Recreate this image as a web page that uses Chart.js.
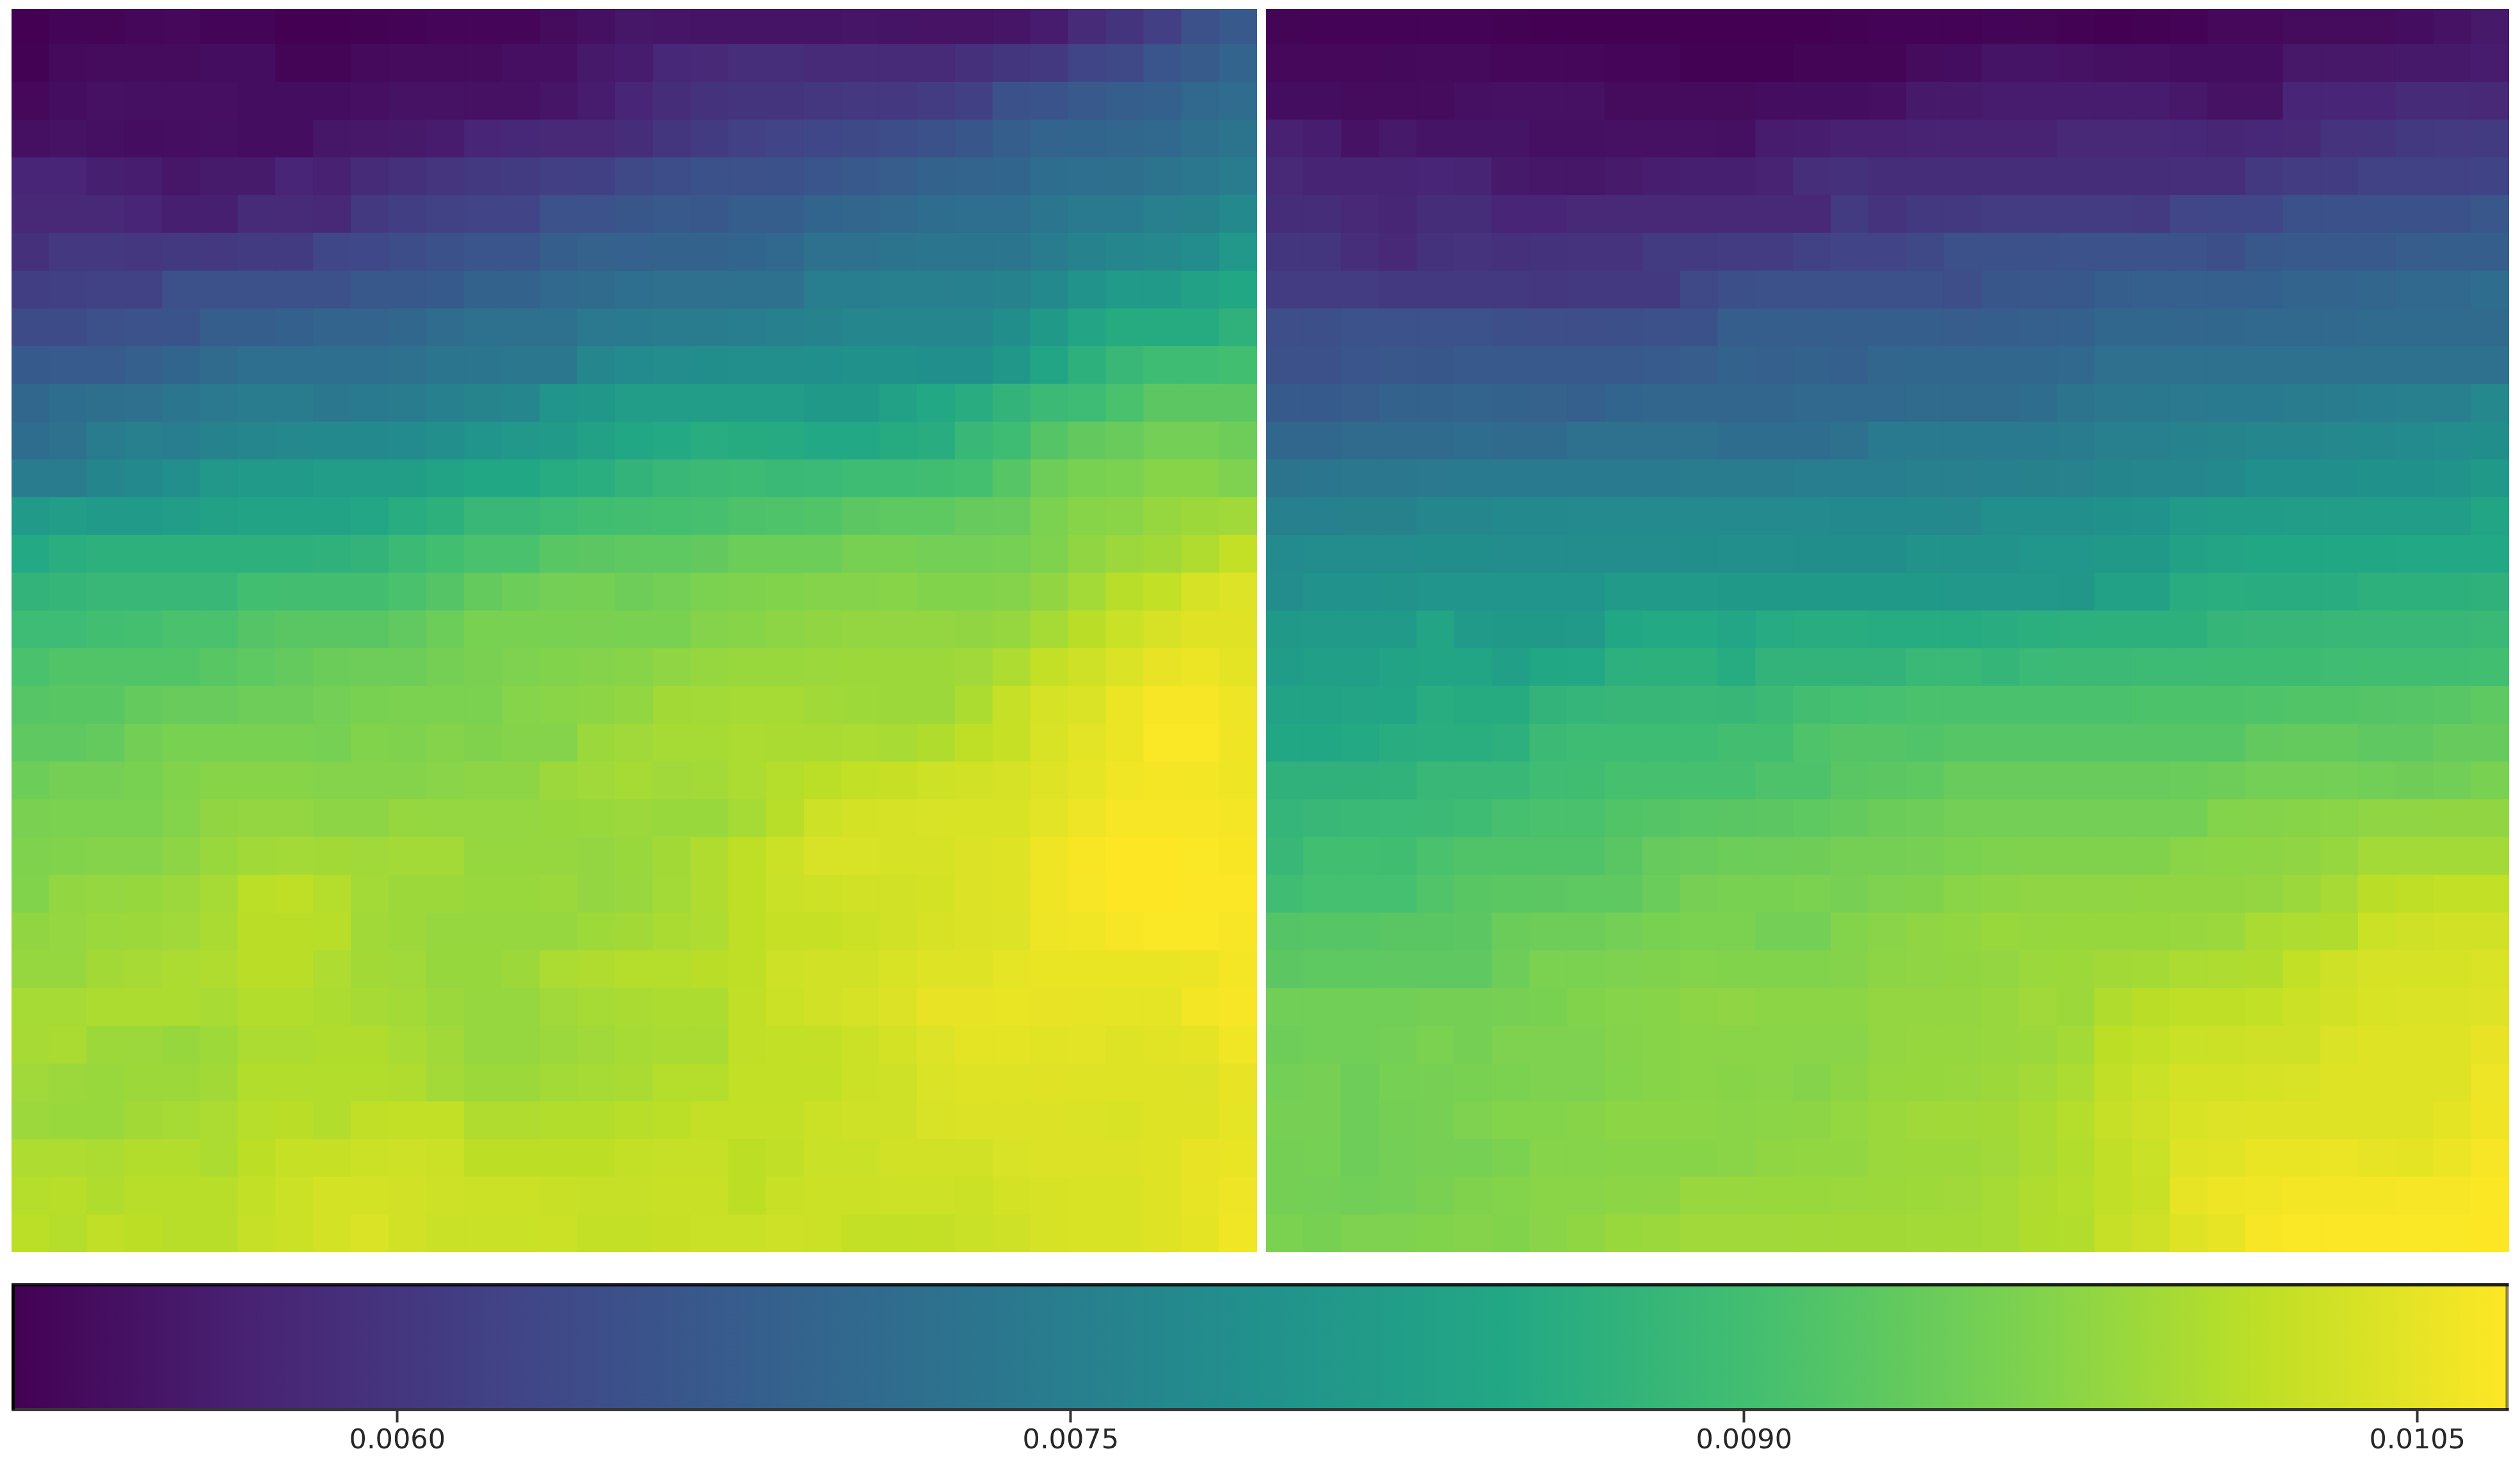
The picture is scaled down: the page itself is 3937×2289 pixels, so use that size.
<!DOCTYPE html>
<html>
<head>
<meta charset="utf-8">
<title>Heatmaps</title>
<script src="https://cdn.jsdelivr.net/npm/chart.js@4"></script>
<style>
    html, body { margin: 0; padding: 0; background: #fff; }
    canvas { position: absolute; }
</style>
</head>
<body>
<canvas id="leftMap" width="1946" height="1942" style="left:18px;top:14px"></canvas>
<canvas id="rightMap" width="1942" height="1942" style="left:1978px;top:14px"></canvas>
<canvas id="colorbar" width="3937" height="289" style="left:0;top:2000px"></canvas>
<script>
const leftRows = [
[514,519,520,524,526,521,521,514,514,516,518,522,522,522,530,538,548, 546,544,544,544,545,546,545,543,543,546,558,580,598,616,650,668],
[516,528,532,532,532,533,534,520,520,528,530,530,530,536,536,553,556, 575,578,588,588,580,580,580,580,590,600,606,628,635,660,674,692],
[525,534,540,538,536,537,534,534,534,536,542,542,540,540,546,556,572, 585,595,598,598,603,604,604,612,618,652,658,668,680,684,702,710],
[538,542,538,533,535,538,534,534,548,550,552,558,572,575,578,578,585, 600,610,620,625,632,638,645,652,662,680,692,695,698,704,716,728],
[572,572,562,560,548,555,555,572,565,582,590,597,606,610,616,618,635, 645,652,650,652,660,668,676,690,693,695,712,715,717,725,735,745],
[578,578,578,572,562,562,582,580,578,606,615,622,627,627,655,655,662, 668,666,678,680,695,696,700,712,714,714,732,740,742,752,756,775],
[590,605,604,603,606,605,610,610,632,634,645,652,660,660,680,688,685, 690,690,695,700,720,722,728,730,732,732,745,762,770,772,780,808],
[615,618,622,622,650,650,650,650,650,665,665,670,690,690,700,708,714, 718,718,720,720,748,750,752,752,755,760,775,798,815,815,830,845],
[640,640,650,655,658,680,680,684,692,692,698,710,720,720,720,738,742, 745,745,748,755,762,768,770,770,770,785,812,838,855,855,855,870],
[670,672,672,682,695,705,714,714,714,714,722,730,730,735,735,770,778, 780,785,788,788,790,792,792,790,790,806,840,868,885,895,895,900],
[698,712,716,718,730,738,745,745,735,742,745,755,764,768,800,806,820, 822,822,822,822,812,812,830,848,858,875,890,893,910,928,928,928],
[712,722,745,752,750,760,770,772,775,775,778,788,800,808,815,830,846, 850,858,855,852,848,848,855,860,885,895,920,935,940,952,952,946],
[745,745,765,775,788,810,815,815,820,820,824,835,845,845,856,862,875, 885,890,892,887,888,895,895,898,903,922,946,958,960,970,970,962],
[815,820,815,813,820,832,836,836,836,842,860,868,885,885,892,898,902, 903,905,913,915,918,928,930,930,938,940,960,970,972,982,988,990],
[850,862,868,868,868,868,868,868,870,875,890,900,910,910,925,928,932, 930,935,945,945,945,957,957,952,952,955,963,978,987,992,1003,1020],
[875,880,885,885,885,885,900,902,902,902,910,920,937,945,952,953,946, 952,960,963,965,967,967,970,965,965,968,978,993,1010,1018,1035,1042],
[893,893,900,903,908,908,920,926,926,926,933,945,958,958,958,959,958, 958,967,970,975,978,980,980,980,978,982,995,1012,1025,1037,1045,1045],
[910,918,918,918,918,925,930,936,944,946,946,953,959,962,965,967,970, 976,982,985,985,986,988,988,988,990,1002,1020,1030,1040,1052,1055,1048],
[921,925,925,937,940,940,946,946,952,958,960,960,960,969,972,975,979, 992,993,995,995,991,989,988,988,1001,1021,1036,1040,1054,1065,1065,1056],
[932,932,937,951,958,958,958,958,955,965,963,967,964,968,968,986,990, 995,995,1000,999,999,1000,997,1004,1016,1022,1039,1047,1055,1067,1067,1059],
[945,953,953,958,965,970,970,970,968,968,968,971,975,975,987,990,995, 990,993,1000,1008,1013,1019,1023,1028,1031,1036,1043,1049,1060,1062,1061,1057],
[959,960,960,960,966,978,980,980,975,975,982,981,981,981,983,985,987, 985,985,995,1011,1028,1034,1036,1038,1039,1039,1047,1056,1064,1064,1064,1063],
[963,965,968,968,975,985,991,993,992,990,993,993,982,982,982,980,985, 992,1003,1016,1026,1038,1038,1036,1036,1041,1043,1058,1066,1070,1070,1067,1066],
[965,979,981,983,987,995,1013,1016,1008,993,988,988,985,985,986,980,984, 993,1003,1016,1025,1028,1031,1031,1034,1041,1043,1058,1064,1070,1070,1068,1068],
[978,981,986,988,990,998,1012,1012,1010,991,988,982,982,982,982,989,992, 998,1002,1016,1022,1022,1026,1031,1037,1041,1042,1056,1060,1064,1067,1067,1065],
[982,982,992,996,1000,1003,1012,1012,1002,992,990,983,983,988,1000,1003,1008, 1008,1012,1016,1028,1031,1031,1039,1044,1044,1049,1053,1053,1053,1053,1054,1062],
[995,995,1001,1001,1001,997,1005,1005,1001,996,993,986,982,982,990,995,998, 1001,1001,1017,1026,1031,1036,1041,1052,1052,1053,1052,1050,1049,1049,1061,1065],
[996,998,988,987,983,989,1000,1000,1004,1004,997,991,982,982,987,990,995, 998,998,1017,1019,1020,1026,1034,1042,1048,1048,1046,1047,1044,1046,1048,1060],
[990,987,985,988,988,992,1005,1005,1005,1005,1003,993,988,988,993,995,998, 1008,1008,1018,1018,1018,1026,1030,1040,1044,1044,1045,1044,1043,1043,1042,1052],
[987,985,985,992,995,1000,1009,1012,1006,1017,1019,1019,1003,1003,1005,1005,1011, 1013,1020,1020,1020,1026,1030,1030,1038,1041,1041,1041,1040,1039,1043,1043,1049],
[1002,1002,1000,1006,1006,1001,1014,1022,1022,1027,1028,1026,1014,1014,1014,1014,1020, 1021,1021,1014,1017,1025,1025,1031,1031,1031,1038,1041,1041,1041,1044,1052,1053],
[1008,1011,1004,1011,1011,1011,1019,1026,1034,1034,1031,1028,1026,1026,1024,1021,1021, 1024,1024,1014,1024,1026,1026,1028,1028,1026,1034,1036,1039,1039,1043,1051,1056],
[1013,1008,1017,1014,1011,1011,1021,1026,1034,1040,1031,1025,1025,1025,1026,1020,1020, 1023,1025,1025,1028,1026,1020,1019,1020,1025,1030,1036,1039,1039,1043,1048,1060]
];

const rightRows = [
[520,518,518,518,517,517,516,514,514,514,514,514,514,514,514,516,517,518,518,519,520,516,514,516,518,525,526,532,532,532,534,542,552],
[526,526,526,527,528,528,524,524,524,522,522,516,516,516,520,520,520,532,533,544,544,542,538,536,534,534,534,550,550,550,552,553,556],
[534,534,532,532,532,538,540,540,540,532,532,530,530,533,533,534,536,552,552,556,556,556,556,556,550,542,542,572,572,572,582,582,578],
[565,560,542,552,545,545,545,538,538,540,540,540,538,556,560,565,565,566,566,566,566,578,578,578,576,574,576,578,596,598,606,608,610],
[578,570,570,570,572,570,552,548,548,554,560,562,562,566,588,590,586,586,586,586,586,586,585,585,587,587,606,612,614,622,622,622,624],
[585,585,578,574,585,585,572,572,578,578,578,578,578,578,578,610,596,606,606,612,612,612,612,608,630,632,632,652,652,652,652,652,664],
[600,600,588,578,594,596,590,594,596,596,610,610,612,612,622,626,626,635,650,650,650,654,654,654,654,648,665,668,668,668,676,678,680],
[612,612,612,606,606,606,606,603,606,606,606,636,648,650,650,650,650,650,646,662,664,666,680,682,682,682,684,692,692,696,700,702,712],
[646,648,654,654,654,654,648,646,646,648,650,652,678,678,678,680,680,678,676,680,682,684,698,698,696,698,700,702,704,706,708,708,708],
[650,650,660,664,662,668,668,668,668,668,672,676,690,682,690,682,696,698,698,698,698,700,718,718,720,720,720,720,722,722,722,722,722],
[670,670,676,690,690,692,690,688,682,694,696,696,696,696,700,702,704,708,708,708,712,728,734,736,738,740,742,744,745,750,752,752,772],
[698,698,706,708,708,712,708,708,720,722,722,720,712,712,712,722,742,742,742,742,742,744,752,752,762,764,768,770,772,775,778,780,785],
[728,730,735,735,738,740,740,742,742,742,742,745,745,745,748,750,750,752,752,754,756,758,765,768,770,775,790,790,790,792,792,798,812],
[755,755,756,756,770,770,775,775,776,776,776,776,776,776,776,774,774,774,772,788,788,788,792,795,815,818,818,820,820,820,820,820,840],
[778,780,780,780,786,786,782,782,782,782,782,785,788,788,786,786,786,798,798,798,805,805,812,812,832,838,846,846,846,846,848,848,848],
[782,795,795,798,802,802,802,802,802,815,815,815,812,812,812,812,812,812,810,810,810,806,830,832,858,862,858,858,858,868,868,868,870],
[812,815,815,815,838,815,812,812,815,846,850,850,842,854,858,858,856,856,856,860,864,866,868,868,868,880,882,882,884,884,884,885,887],
[818,825,825,835,840,840,826,846,848,866,868,868,856,875,875,875,875,886,886,880,888,890,890,892,892,894,894,894,896,898,898,898,900],
[836,836,838,840,858,855,855,875,878,882,882,884,882,890,902,904,906,910,910,910,910,910,910,912,912,912,915,918,918,920,922,924,930],
[846,846,850,858,862,862,866,890,895,895,895,895,902,902,915,920,920,917,922,922,922,922,922,922,922,922,934,936,936,932,932,938,938],
[870,870,870,872,884,884,884,896,898,905,905,905,905,913,913,926,928,930,940,940,940,940,940,940,942,946,952,952,952,950,948,950,958],
[878,884,886,888,890,895,905,908,908,918,920,924,926,928,930,937,944,946,952,952,952,952,952,952,952,966,968,970,972,976,976,978,978],
[885,900,900,898,910,916,916,916,916,926,938,940,945,946,948,954,954,956,960,963,964,964,964,964,972,974,975,976,982,993,993,993,993],
[896,904,904,904,917,925,927,928,930,932,942,956,958,958,960,956,962,964,972,974,976,976,976,978,978,978,980,986,996,1012,1016,1018,1018],
[920,922,922,926,926,928,944,946,946,952,958,960,960,952,952,966,971,976,979,985,982,983,983,983,984,986,998,1002,1004,1027,1029,1031,1031],
[928,930,930,932,932,932,946,960,960,962,964,966,965,965,965,968,975,976,978,980,986,988,992,994,1000,1002,1004,1019,1030,1036,1036,1036,1040],
[950,950,950,950,953,954,956,958,965,969,970,975,976,974,974,974,980,980,980,984,990,988,1004,1012,1016,1016,1018,1027,1032,1039,1040,1040,1042],
[946,950,950,952,960,954,962,962,962,968,970,972,972,972,971,971,980,982,982,984,986,994,1014,1018,1025,1026,1030,1030,1040,1044,1044,1044,1052],
[952,956,946,955,956,958,960,962,962,966,970,972,970,971,967,975,982,983,984,988,993,1000,1017,1025,1034,1034,1036,1038,1044,1044,1044,1044,1056],
[956,956,946,954,956,962,966,966,970,974,974,973,972,973,975,981,986,990,991,992,999,1008,1021,1029,1039,1042,1043,1044,1044,1044,1044,1048,1058],
[954,955,946,952,956,955,960,969,969,970,970,970,972,977,979,979,986,988,988,990,999,1006,1017,1025,1043,1046,1053,1053,1055,1051,1048,1054,1064],
[954,952,950,952,959,964,966,972,972,974,975,984,984,985,985,986,988,989,990,995,1003,1008,1017,1024,1050,1057,1060,1063,1063,1063,1064,1065,1069],
[960,957,962,962,965,967,965,971,977,985,986,990,990,990,991,992,992,993,994,995,1004,1006,1021,1030,1043,1051,1064,1067,1068,1068,1067,1067,1070]
];

const cellUnit = 1e-5;
const columnLabels = leftRows[0].map((v, i) => String(i));

const colorMin = 0.005144;
const colorMax = 0.0107;
const colorbarTicks = [0.0060, 0.0075, 0.0090, 0.0105];

// viridis, evenly spaced stops
const viridisStops = ['#440154', '#482475', '#414487', '#355f8d', '#2a788e', '#21918c', '#22a884', '#44bf70', '#7ad151', '#bddf26', '#fde725'];

function hexToRgb(hex) {
    return [1, 3, 5].map(i => parseInt(hex.slice(i, i + 2), 16));
}

function viridisColor(value) {
    const t = Math.min(1, Math.max(0, (value - colorMin) / (colorMax - colorMin)));
    const pos = t * (viridisStops.length - 1);
    const i = Math.min(Math.floor(pos), viridisStops.length - 2);
    const a = hexToRgb(viridisStops[i]);
    const b = hexToRgb(viridisStops[i + 1]);
    const rgb = a.map((c, k) => Math.round(c + (b[k] - c) * (pos - i)));
    return `rgb(${rgb[0]},${rgb[1]},${rgb[2]})`;
}

function createHeatmap(canvasId, rows) {
    // every row is a stacked dataset of unit-height bars, coloured by its value
    const datasets = rows.map(row => ({
        data: row.map(() => 1),
        backgroundColor: row.map(v => viridisColor(v * cellUnit)),
        borderWidth: 0,
        inflateAmount: 0.6,
        barPercentage: 1,
        categoryPercentage: 1
    }));

    new Chart(document.getElementById(canvasId), {
        type: 'bar',
        data: { labels: columnLabels, datasets: datasets },
        options: {
            responsive: false,
            animation: false,
            devicePixelRatio: 1,
            layout: { padding: 0 },
            plugins: { legend: { display: false }, tooltip: { enabled: false } },
            scales: {
                x: { stacked: true, display: false },
                y: { stacked: true, display: false, reverse: true, min: 0.08, max: rows.length }
            }
        }
    });
}

// frame round the colorbar; the sides are not equally dark in the reference
const colorbarFrame = {
    id: 'colorbarFrame',
    afterDatasetsDraw(chart) {
        const { ctx, chartArea: { left, right, top, bottom } } = chart;
        const sides = [
            [left - 2.5, top, right + 2.5, top, 'rgba(0,0,0,0.88)'],
            [left - 2.5, bottom, right + 2.5, bottom, '#363636'],
            [left, top, left, bottom, '#000'],
            [right, top, right, bottom, 'rgba(0,0,0,0.45)']
        ];
        ctx.save();
        ctx.lineWidth = 5;
        sides.forEach(([x0, y0, x1, y1, color]) => {
            ctx.strokeStyle = color;
            ctx.beginPath();
            ctx.moveTo(x0, y0);
            ctx.lineTo(x1, y1);
            ctx.stroke();
        });
        ctx.restore();
    }
};

function createColorbar() {
    new Chart(document.getElementById('colorbar'), {
        type: 'bar',
        data: {
            labels: ['value'],
            datasets: [{
                data: [[colorMin, colorMax]],
                backgroundColor: function(context) {
                    const area = context.chart.chartArea;
                    if (!area) return '#000';
                    const gradient = context.chart.ctx.createLinearGradient(area.left, 0, area.right, 0);
                    viridisStops.forEach((c, i) => gradient.addColorStop(i / (viridisStops.length - 1), c));
                    return gradient;
                },
                borderWidth: 0,
                barPercentage: 1,
                categoryPercentage: 1
            }]
        },
        options: {
            indexAxis: 'y',
            responsive: false,
            animation: false,
            devicePixelRatio: 1,
            layout: { padding: { left: 20.5, right: 20, top: 7.5, bottom: 0 } },
            plugins: { legend: { display: false }, tooltip: { enabled: false } },
            scales: {
                y: { display: false },
                x: {
                    type: 'linear',
                    min: colorMin,
                    max: colorMax,
                    afterBuildTicks: scale => { scale.ticks = colorbarTicks.map(value => ({ value })); },
                    afterFit: scale => { scale.height = 86.5; },
                    border: { display: false },
                    grid: { drawOnChartArea: false, drawTicks: true, tickLength: 20, tickWidth: 4, tickColor: '#333' },
                    ticks: {
                        autoSkip: false,
                        maxRotation: 0,
                        padding: 4,
                        color: '#262626',
                        font: { family: 'DejaVu Sans', size: 43 },
                        callback: value => value.toFixed(4)
                    }
                }
            }
        },
        plugins: [colorbarFrame]
    });
}

createHeatmap('leftMap', leftRows);
createHeatmap('rightMap', rightRows);
createColorbar();
</script>
</body>
</html>
